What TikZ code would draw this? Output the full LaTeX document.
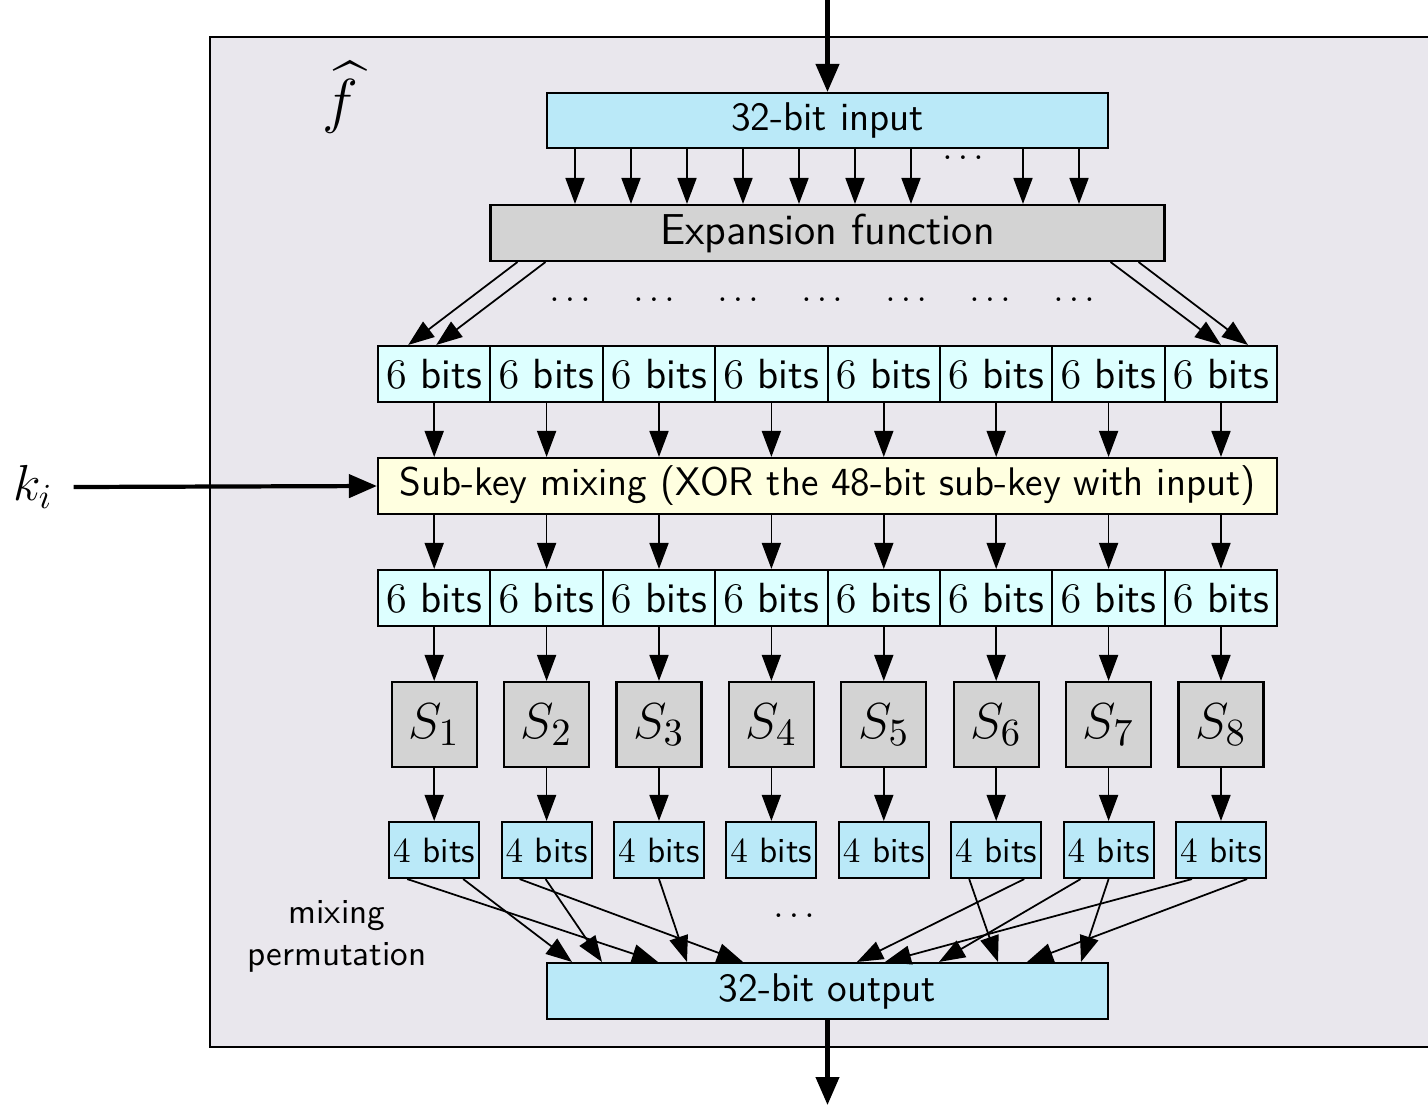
\documentclass[tikz,border=0pt]{standalone}
\usepackage{amsmath,amssymb}
\usepackage{xcolor}
\usepackage{tikz}
\usetikzlibrary{arrows.meta}
\usetikzlibrary{positioning}

\definecolor{framebg}{RGB}{233,231,237}
\definecolor{bluebox}{RGB}{186,233,248}
\definecolor{cyanbox}{RGB}{221,255,255}
\definecolor{yellowbox}{RGB}{255,255,224}
\definecolor{graybox}{RGB}{211,211,211}

\begin{document}
\begin{tikzpicture}[
    box/.style={rectangle, draw, semithick, inner sep=0pt, font=\sffamily},
    arr/.style={-{Triangle[length=2.6mm,width=1.9mm]}, line width=0.5pt},
    bigarr/.style={-{Triangle[length=2.8mm,width=2.3mm]}, line width=1.2pt},
  ]
  \useasboundingbox (0,0) rectangle (14.28,-11.05);

  % Frame of f
  \draw[semithick, fill=framebg] (2.10,-0.37) rectangle (14.60,-10.47);
  \node[font=\LARGE] (fhat) at (3.40,-0.97) {$\widehat{f}$};

  % Input and expansion
  \coordinate (top) at (8.275,0);
  \node[box, fill=bluebox, minimum width=5.61cm, minimum height=0.55cm,
        font=\sffamily\fontsize{11.4}{13}\selectfont] (in) at (8.275,-1.205) {32-bit input};
  \node[box, fill=graybox, minimum width=6.74cm, minimum height=0.56cm,
        font=\sffamily\fontsize{12.3}{14}\selectfont] (exp) at (8.275,-2.33) {Expansion function};
  \draw[bigarr] (top) -- (in.north);
  \foreach \dx in {-2.525,-1.965,-1.405,-0.845,-0.285,0.275,0.835,1.955,2.515}
    \draw[arr] ([xshift=\dx cm]in.south) -- ([xshift=\dx cm]exp.north);
  \node (indots) at (9.66,-1.58) {$\dots$};

  % Expansion to 6 bits
  \foreach \x in {5.73,6.57,7.41,8.25,9.09,9.93,10.77}
    \node at (\x,-3.00) {$\dots$};

  % Sub-key mixing
  \node[box, fill=yellowbox, minimum width=8.99cm, minimum height=0.56cm,
        font=\sffamily\fontsize{11.35}{13}\selectfont] (mix) at (8.275,-4.86)
    {Sub-key mixing (XOR the 48-bit sub-key with input)};
  \node[font=\Large, inner xsep=0.2cm] (k) at (0.33,-4.87) {$k_i$};
  \draw[bigarr] (k.east) -- (mix.west);

  % Output
  \coordinate (bottom) at (8.275,-11.05);
  \node[box, fill=bluebox, minimum width=5.61cm, minimum height=0.56cm,
        font=\sffamily\fontsize{11.4}{13}\selectfont] (out) at (8.275,-9.91) {32-bit output};
  \draw[bigarr] (out.south) -- (bottom);

  % Columns: 6 bits, 6 bits, S-box, 4 bits
  \foreach \i in {1,...,8} {
    \pgfmathsetmacro{\x}{3.78+1.124*(\i-0.5)}
    \node[box, fill=cyanbox, minimum width=1.124cm, minimum height=0.56cm, font=\sffamily\large]
      (a\i) at (\x,-3.74) {$6$ bits};
    \node[box, fill=cyanbox, minimum width=1.124cm, minimum height=0.56cm, font=\sffamily\large]
      (b\i) at (\x,-5.98) {$6$ bits};
    \node[box, fill=graybox, minimum size=0.85cm, font=\fontsize{15.5}{18}\selectfont]
      (s\i) at (\x,-7.245) {$S_{\i}$};
    \node[box, fill=bluebox, minimum width=0.90cm, minimum height=0.56cm]
      (c\i) at (\x,-8.50) {$4$ bits};
    \draw[arr] (a\i.south) -- (a\i.south |- mix.north);
    \draw[arr] (mix.south -| b\i) -- (b\i.north);
    \draw[arr] (b\i.south) -- (s\i.north);
    \draw[arr] (s\i.south) -- (c\i.north);
  }

  % Expansion fan-out
  \draw[arr] ([xshift=0.28cm]exp.south west) -- ([xshift=-0.26cm]a1.north);
  \draw[arr] ([xshift=0.56cm]exp.south west) -- ([xshift=0.02cm]a1.north);
  \draw[arr] ([xshift=-0.55cm]exp.south east) -- (a8.north);
  \draw[arr] ([xshift=-0.27cm]exp.south east) -- ([xshift=0.27cm]a8.north);

  % Mixing permutation
  \foreach \c/\from/\to in {1/-0.27/-1.695, 1/0.29/-2.555, 2/-0.27/-0.845, 2/-0.01/-2.255,
      3/0/-1.405, 6/-0.27/1.705, 6/0.28/0.295, 7/-0.28/1.115, 7/0/2.535,
      8/-0.29/0.575, 8/0.26/1.995}
    \draw[arr] ([xshift=\from cm]c\c.south) -- ([xshift=\to cm]out.north);
  \node (outdots) at (7.97,-9.16) {$\dots$};
  \node[font=\sffamily, align=center] (perm) at (3.37,-9.36) {mixing\\permutation};

\end{tikzpicture}
\end{document}
